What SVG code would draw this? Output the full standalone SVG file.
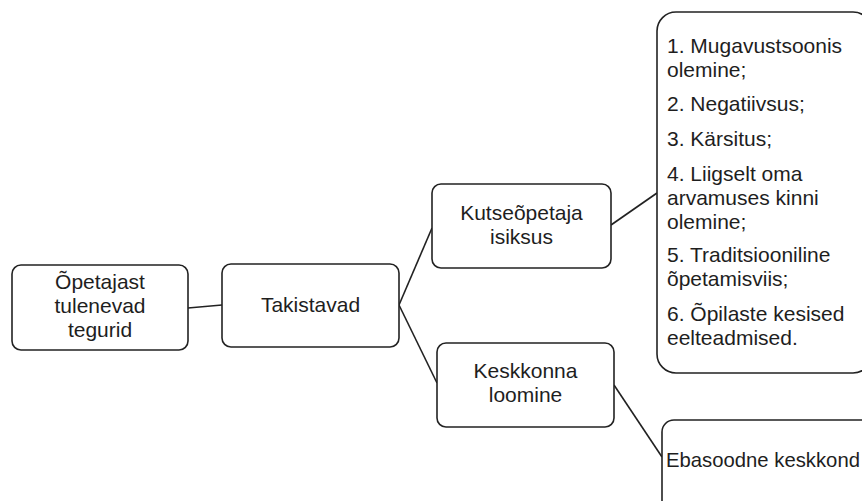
<svg xmlns="http://www.w3.org/2000/svg" width="862" height="501" viewBox="0 0 862 501">
<style>
.box{fill:#fff;stroke:#222;stroke-width:1.6}
.ln{stroke:#222;stroke-width:1.6;fill:none}
text{font-family:"Liberation Sans",Arial,sans-serif;font-size:21px;fill:#1e1e1e}
.c{text-anchor:middle}
</style>
<rect width="862" height="501" fill="#fff"/>
<g id="connectors">
<line class="ln" x1="188" y1="308" x2="222" y2="305"/>
<line class="ln" x1="399" y1="305" x2="432" y2="228"/>
<line class="ln" x1="399" y1="305" x2="437" y2="383"/>
<line class="ln" x1="611" y1="225" x2="657" y2="193"/>
<line class="ln" x1="614" y1="385" x2="662" y2="457"/>
</g>
<g id="n1">
<rect class="box" x="12" y="265" width="176" height="85" rx="9"/>
<text class="c" x="100" y="289">Õpetajast</text>
<text class="c" x="100" y="313">tulenevad</text>
<text class="c" x="100" y="337">tegurid</text>
</g>
<g id="n2">
<rect class="box" x="222" y="264" width="177" height="83" rx="9"/>
<text class="c" x="310.5" y="312">Takistavad</text>
</g>
<g id="n3">
<rect class="box" x="432" y="184" width="179" height="84" rx="9"/>
<text class="c" x="521.5" y="220">Kutseõpetaja</text>
<text class="c" x="521.5" y="244">isiksus</text>
</g>
<g id="n4">
<rect class="box" x="437" y="343" width="177" height="84" rx="9"/>
<text class="c" x="525.5" y="378">Keskkonna</text>
<text class="c" x="525.5" y="402">loomine</text>
</g>
<g id="n5">
<rect class="box" x="657" y="12" width="215" height="361" rx="19"/>
<text x="667" y="53">1. Mugavustsoonis</text>
<text x="667" y="77">olemine;</text>
<text x="667" y="111">2. Negatiivsus;</text>
<text x="667" y="146">3. Kärsitus;</text>
<text x="667" y="181">4. Liigselt oma</text>
<text x="667" y="205">arvamuses kinni</text>
<text x="667" y="229">olemine;</text>
<text x="667" y="262">5. Traditsiooniline</text>
<text x="667" y="286">õpetamisviis;</text>
<text x="667" y="321">6. Õpilaste kesised</text>
<text x="667" y="345">eelteadmised.</text>
</g>
<g id="n6">
<rect class="box" x="662" y="420" width="220" height="100" rx="12"/>
<text x="666" y="467" style="font-size:20.3px">Ebasoodne keskkond</text>
</g>
</svg>
